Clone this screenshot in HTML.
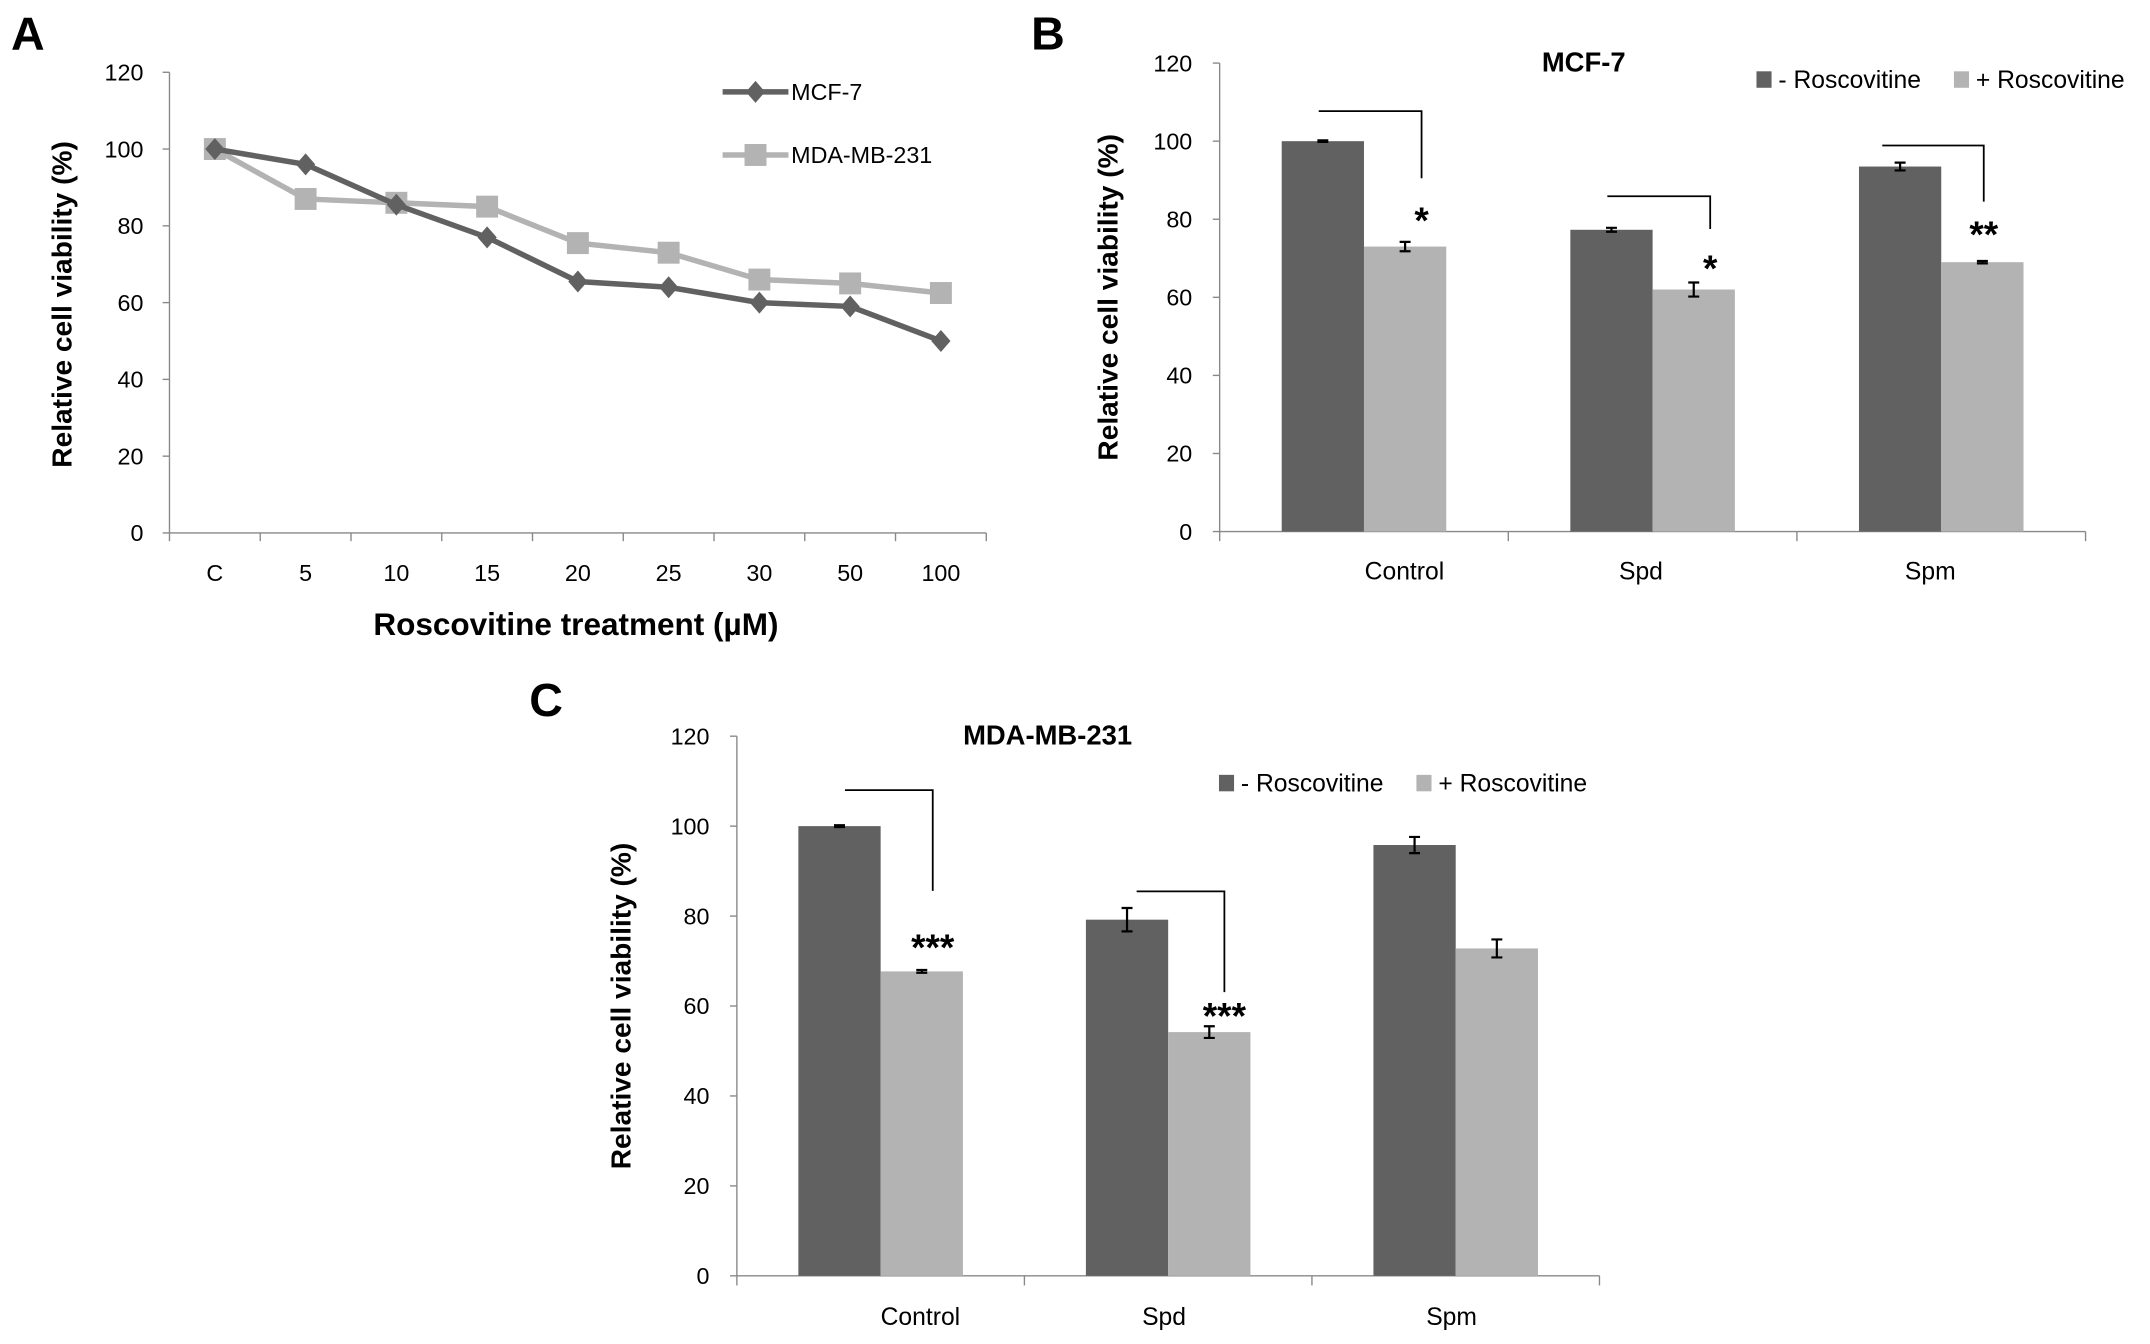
<!DOCTYPE html>
<html><head><meta charset="utf-8"><style>
html,body{margin:0;padding:0;background:#fff;}
svg{display:block;}
text{font-family:"Liberation Sans",sans-serif;}
</style></head><body>
<svg id="fig" width="2150" height="1344" viewBox="0 0 1568 980" preserveAspectRatio="none" xmlns="http://www.w3.org/2000/svg">
<text x="8" y="36" font-size="34" font-weight="bold">A</text>
<text x="752" y="36" font-size="34" font-weight="bold">B</text>
<text x="386" y="522" font-size="34" font-weight="bold">C</text>
<g id="pa"></g>
<g id="pb"></g>
<g id="pc"></g>
</svg>
<script>
const aCategories = ["C","5","10","15","20","25","30","50","100"];
const aMCF7 = [100,96,85.5,77,65.5,64,60,59,50];
const aMDA = [100,87,86,85,75.5,73,66,65,62.5];
const yTicks = [0,20,40,60,80,100,120];
const barCategories = ["Control","Spd","Spm"];
const bMinus = [100,77.3,93.5];
const bMinusErr = [0.2,0.5,1];
const bPlus = [73,62,69];
const bPlusErr = [1.2,1.8,0.3];
const bStars = ["*","*","**"];
const bBracketTop = [107.7,85.9,98.9];
const bBracketBottom = [90.5,77.5,84.5];
const bStarAt = [81.7,69.4,78.2];
const cMinus = [100,79.2,95.8];
const cMinusErr = [0.2,2.6,1.8];
const cPlus = [67.7,54.2,72.8];
const cPlusErr = [0.3,1.3,2];
const cStars = ["***","***",""];
const cBracketTop = [108,85.5,0];
const cBracketBottom = [85.6,63.1,0];
const cStarAt = [74.8,59.6,0];
const DARK="#616161", LIGHT="#b3b3b3";
const NS="http://www.w3.org/2000/svg";
function mk(parent,tag,attrs,txt){const e=document.createElementNS(NS,tag);for(const k in attrs)e.setAttribute(k,attrs[k]);if(txt!==undefined)e.textContent=txt;parent.appendChild(e);return e;}

(function(){
  const g=document.getElementById('pa');
  const x0=123.6,x1=719.3,y0=388.6,yTop=52.7;
  const cw=(x1-x0)/aCategories.length;
  const X=i=>x0+cw*(i+0.5), Y=v=>y0-(y0-yTop)*v/120;
  const ax=mk(g,'line',{x1:x0,y1:yTop,x2:x0,y2:y0,stroke:'#888','stroke-width':1});
  
  
  const xa=mk(g,'line',{x1:x0,y1:y0,x2:x1,y2:y0,stroke:'#888','stroke-width':1});
  
  
  yTicks.forEach(v=>{
    mk(g,'line',{x1:x0-5,y1:Y(v),x2:x0,y2:Y(v),stroke:'#888'});
    const t=mk(g,'text',{x:x0-19,y:Y(v)+6,'font-size':17,'text-anchor':'end'},v);
    
    
  });
  aCategories.forEach((c,i)=>{
    mk(g,'line',{x1:x0+cw*i,y1:y0,x2:x0+cw*i,y2:y0+6,stroke:'#888'});
    const t=mk(g,'text',{x:X(i),y:y0+35,'font-size':17,'text-anchor':'middle'},c);
    
    
  });
  mk(g,'line',{x1:x1,y1:y0,x2:x1,y2:y0+6,stroke:'#888'});
  const series=[[aMDA,LIGHT,'sq','mda-mb-231-line'],[aMCF7,DARK,'dm','mcf-7-line']];
  series.forEach(([d,col,m,name])=>{
    const p=mk(g,'polyline',{points:d.map((v,i)=>X(i)+','+Y(v)).join(' '),fill:'none',stroke:col,'stroke-width':4});
    
    
    d.forEach((v,i)=>{
      let e;
      if(m==='sq') e=mk(g,'rect',{x:X(i)-8,y:Y(v)-8,width:16,height:16,fill:col});
      else e=mk(g,'polygon',{points:`${X(i)},${Y(v)-8} ${X(i)+7},${Y(v)} ${X(i)},${Y(v)+8} ${X(i)-7},${Y(v)}`,fill:col});
      
      
    });
  });
  const l1=mk(g,'g',{});
  
  
  mk(l1,'line',{x1:527,y1:67,x2:575,y2:67,stroke:DARK,'stroke-width':4});
  mk(l1,'polygon',{points:'551,59 558,67 551,75 544,67',fill:DARK});
  mk(l1,'text',{x:577,y:73,'font-size':17},'MCF-7');
  const l2=mk(g,'g',{});
  
  
  mk(l2,'line',{x1:527,y1:113,x2:575,y2:113,stroke:LIGHT,'stroke-width':4});
  mk(l2,'rect',{x:543,y:105,width:16,height:16,fill:LIGHT});
  mk(l2,'text',{x:577,y:119,'font-size':17},'MDA-MB-231');
  const yt=mk(g,'text',{x:0,y:0,'font-size':20.5,'font-weight':'bold','text-anchor':'middle',transform:'translate(52,222) rotate(-90)'},'Relative cell viability (%)');
  
  
  const xt=mk(g,'text',{x:420,y:463,'font-size':23,'font-weight':'bold','text-anchor':'middle'},'Roscovitine treatment (µM)');
  
  
})();

function barPanel(id,cfg,minus,minusErr,plus,plusErr,stars,brTop,brBot,starAt){
  const g=document.getElementById(id);
  const {x0,x1,y0,yTop}=cfg;
  const gw=(x1-x0)/barCategories.length, bw=60;
  const Y=v=>y0-(y0-yTop)*v/120;
  const ax=mk(g,'line',{x1:x0,y1:yTop,x2:x0,y2:y0,stroke:'#888'});
  
  
  const xa=mk(g,'line',{x1:x0,y1:y0,x2:x1,y2:y0,stroke:'#888'});
  
  
  yTicks.forEach(v=>{
    mk(g,'line',{x1:x0-5,y1:Y(v),x2:x0,y2:Y(v),stroke:'#888'});
    const t=mk(g,'text',{x:x0-20,y:Y(v)+6,'font-size':17,'text-anchor':'end'},v);
    
    
  });
  for(let i=0;i<=barCategories.length;i++) mk(g,'line',{x1:x0+gw*i,y1:y0,x2:x0+gw*i,y2:y0+7,stroke:'#888'});
  barCategories.forEach((c,i)=>{
    const cx=x0+gw*(i+0.5);
    const t=mk(g,'text',{x:cx+cfg.labDx[i],y:y0+cfg.labDy,'font-size':18,'text-anchor':'middle'},c);
    
    
    [[minus[i],minusErr[i],DARK,cx-bw,'bar-minus-roscovitine'],[plus[i],plusErr[i],LIGHT,cx,'bar-plus-roscovitine']].forEach(([v,e,col,x,nm])=>{
      const r=mk(g,'rect',{x:x,y:Y(v),width:bw,height:y0-Y(v),fill:col});
      
      
      const bx=x+bw/2;
      const eb=mk(g,'path',{d:`M${bx-4},${Y(v+e)}H${bx+4}M${bx},${Y(v+e)}V${Y(v-e)}M${bx-4},${Y(v-e)}H${bx+4}`,stroke:'#000','stroke-width':1.6,fill:'none'});
      
      
    });
    if(stars[i]){
      const rx=cx+bw/2+cfg.brRight[i];
      const br=mk(g,'path',{d:`M${cx-bw+cfg.brLeft[i]},${Y(brTop[i])}H${rx}V${Y(brBot[i])}`,stroke:'#000','stroke-width':1.3,fill:'none'});
      
      
      const s=mk(g,'text',{x:rx,y:Y(starAt[i])+15,'font-size':27,'font-weight':'bold','text-anchor':'middle'},stars[i]);
      
      
    }
  });
  const ti=mk(g,'text',{x:cfg.titleX,y:cfg.titleY,'font-size':20,'font-weight':'bold','text-anchor':'middle'},cfg.title);
  
  
  const le1=mk(g,'g',{});
  
  
  mk(le1,'rect',{x:cfg.legX,y:cfg.legY-6,width:11,height:12,fill:DARK});
  mk(le1,'text',{x:cfg.legX+16,y:cfg.legY+6,'font-size':18},'- Roscovitine');
  const le2=mk(g,'g',{});
  
  
  mk(le2,'rect',{x:cfg.legX+144,y:cfg.legY-6,width:11,height:12,fill:LIGHT});
  mk(le2,'text',{x:cfg.legX+160,y:cfg.legY+6,'font-size':18},'+ Roscovitine');
  const yt=mk(g,'text',{x:0,y:0,'font-size':20.5,'font-weight':'bold','text-anchor':'middle',transform:`translate(${cfg.ytX},${(y0+yTop)/2}) rotate(-90)`},'Relative cell viability (%)');
  
  
}
barPanel('pb',{x0:889.5,x1:1521,y0:387.6,yTop:46,labDx:[29.5,-8.5,-8],labDy:35,brLeft:[27,27,17],brRight:[12,12,1],title:'MCF-7',titleX:1155,titleY:52,legX:1281,legY:58,ytX:815},bMinus,bMinusErr,bPlus,bPlusErr,bStars,bBracketTop,bBracketBottom,bStarAt);
barPanel('pc',{x0:537.4,x1:1166.5,y0:930.3,yTop:536.8,labDx:[29,-3,-3],labDy:36,brLeft:[34,37,0],brRight:[8,11,0],title:'MDA-MB-231',titleX:764,titleY:543,legX:889,legY:571,ytX:460},cMinus,cMinusErr,cPlus,cPlusErr,cStars,cBracketTop,cBracketBottom,cStarAt);
</script>
</body></html>
